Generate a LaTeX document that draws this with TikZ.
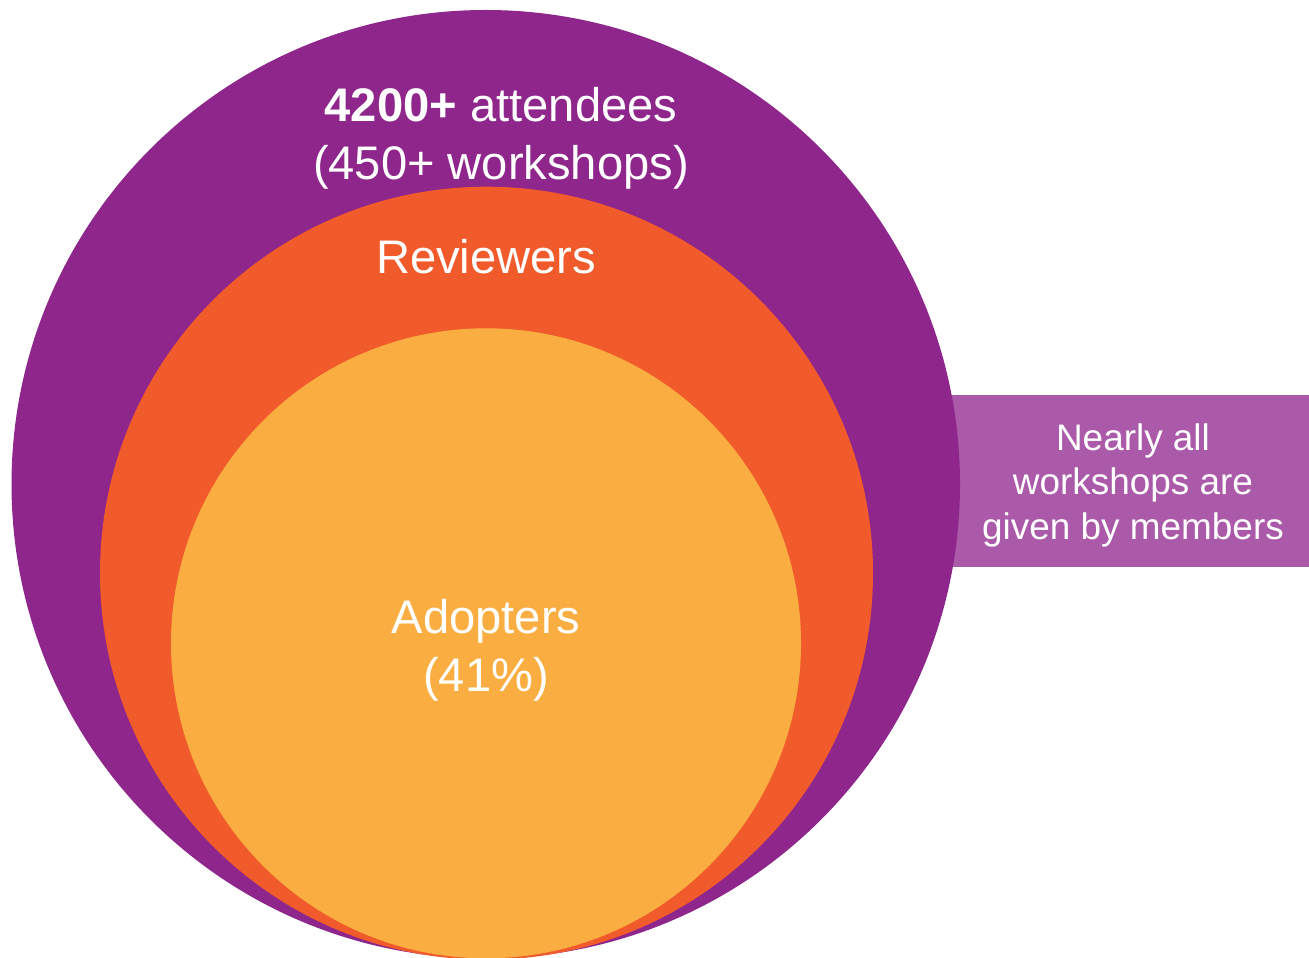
\documentclass[tikz,border=0pt]{standalone}
\usepackage{fontspec}
\setmainfont{Liberation Sans}
\definecolor{outerPurple}{RGB}{142,38,139}
\definecolor{midOrange}{RGB}{241,90,43}
\definecolor{innerOrange}{RGB}{250,174,65}
\definecolor{boxPurple}{RGB}{170,90,169}
\begin{document}
\begin{tikzpicture}[%%
  x=0.01cm,y=-0.01cm,%%
  ringStyle/.style={circle,inner sep=0pt,outer sep=0pt},%%
  bigText/.style={text=white,align=center,inner sep=0pt,%%
    font=\fontsize{13.4}{16.4}\selectfont},%%
  boxText/.style={text=white,align=center,inner sep=0pt,%%
    font=\fontsize{10.5}{12.6}\selectfont}%%
]
%%
%%
\pgfmathsetmacro{\rOuter}{474.25}
\pgfmathsetmacro{\rMid}{386.5}
\pgfmathsetmacro{\rInner}{315}
%%
\coordinate (lowerLeft) at (0,958);
\coordinate (upperRight) at (1309,0);
\useasboundingbox (lowerLeft) rectangle (upperRight);
%%
%% Draw the side box first, the big circle covers its left end.
\fill[boxPurple] (900,395) rectangle (1309,566.5);
%% Draw the three circles.
\node[ringStyle,fill=outerPurple,minimum size=2*\rOuter*0.01cm] (attendees) at (485.75,484.25) {};
\node[ringStyle,fill=midOrange,minimum size=2*\rMid*0.01cm] (reviewers) at (486.5,573.2) {};
\node[ringStyle,fill=innerOrange,minimum size=2*\rInner*0.01cm] (adopters) at (486,643.3) {};
%% Label the circles.
\node[bigText] (attendeesText) at (501,138) {\textbf{4200+} attendees\\(450+ workshops)};
\node[bigText,anchor=base] (reviewersText) at (486,273.3) {Reviewers};
\node[bigText,font=\fontsize{13.4}{16.6}\selectfont] (adoptersText) at (486,650.4) {Adopters\\(41\%)};
%% Label the side box.
\node[boxText] (membersText) at (1133,485.3) {Nearly all\\workshops are\\given by members};
\end{tikzpicture}
\end{document}
